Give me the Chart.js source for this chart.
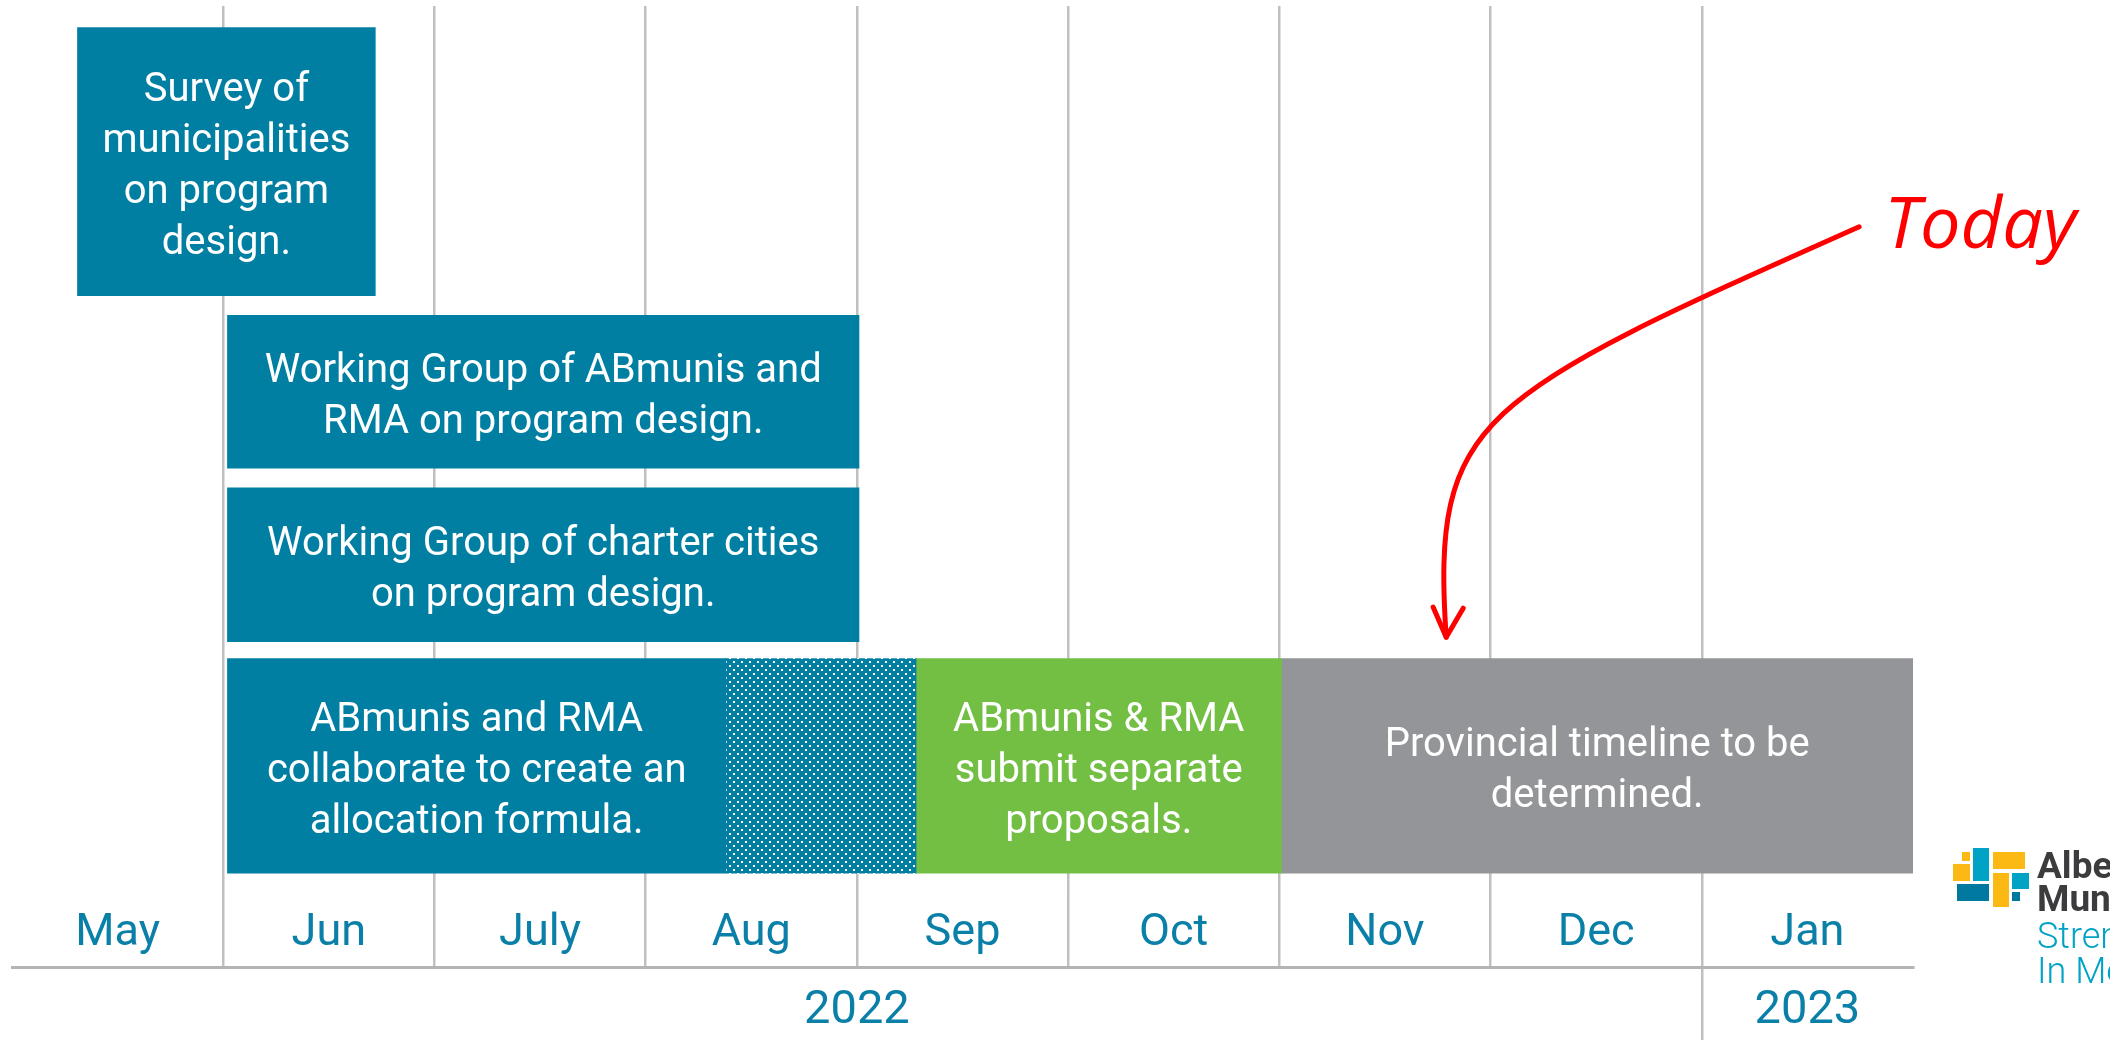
<!DOCTYPE html>
<html>
<head>
<meta charset="utf-8">
<script src="https://cdn.jsdelivr.net/npm/chart.js@4.4.1/dist/chart.umd.min.js"></script>
<style>
  html, body { margin: 0; padding: 0; background: #fff; overflow: hidden; }
  canvas { display: block; }
</style>
</head>
<body>
<canvas id="timeline" width="2110" height="1040"></canvas>
<script>
// axis: months from start of May 2022
const months = ['May', 'Jun', 'July', 'Aug', 'Sep', 'Oct', 'Nov', 'Dec', 'Jan'];
const years = ['2022', '2023'];
const yearStart = [0, 8];
const yearEnd = [8, 9];

// tasks: x in months since May 1, y in rows (0 = top, 10 = bottom)
const taskText = [
  ['Survey of', 'municipalities', 'on program', 'design.'],
  ['Working Group of ABmunis and', 'RMA on program design.'],
  ['Working Group of charter cities', 'on program design.'],
  ['ABmunis and RMA', 'collaborate to create an', 'allocation formula.'],
  [],
  ['ABmunis & RMA', 'submit separate', 'proposals.'],
  ['Provincial timeline to be', 'determined.']
];
const taskStart = [0.31, 1.02, 1.02, 1.02, 3.38, 4.28, 6.01];
const taskEnd = [1.72, 4.01, 4.01, 3.38, 4.28, 6.01, 9.0];
const taskTop = [0.24, 3.46, 5.39, 7.30, 7.30, 7.30, 7.30];
const taskBottom = [3.24, 5.17, 7.11, 9.70, 9.70, 9.70, 9.70];
const taskKind = ['blue', 'blue', 'blue', 'blue', 'dots', 'green', 'grey'];

// "Today" callout (start, two control points, tip), same units as the bars
const todayArrow = [[8.745, 2.47], [6.93, 4.38], [6.72, 4.60], [6.79, 7.06]];

const BLUE = '#007fa3';
const GREEN = '#72bf44';
const GREY = '#949599';
const GRID = '#c0c0c0';
const TEAL = '#0a80a8';
const RED = '#ff0000';

function dotPattern() {
  const c = document.createElement('canvas');
  c.width = 8; c.height = 8;
  const g = c.getContext('2d');
  g.fillStyle = BLUE;
  g.fillRect(0, 0, 8, 8);
  g.fillStyle = '#ffffff';
  g.fillRect(1, 1, 2, 2);
  g.fillRect(5, 5, 2, 2);
  return g.createPattern(c, 'repeat');
}

const fills = { blue: BLUE, dots: dotPattern(), green: GREEN, grey: GREY };

const datasets = taskStart.map((s, i) => ({
  data: [{ x: [s, taskEnd[i]], y: (taskTop[i] + taskBottom[i]) / 2 }],
  xAxisID: 'x',
  yAxisID: 'y',
  backgroundColor: fills[taskKind[i]],
  borderWidth: 0,
  grouped: false,
  barThickness: (c) => {
    const ys = c.chart.scales.y;
    return Math.abs(ys.getPixelForValue(taskBottom[i]) - ys.getPixelForValue(taskTop[i]));
  }
}));

// year ticks: label in the middle of each span, divider at each boundary
const yearMid = years.map((y, i) => (yearStart[i] + yearEnd[i]) / 2);
const yearTicks = yearMid.concat(yearStart.slice(1)).sort((a, b) => a - b);

const barText = {
  id: 'barText',
  afterDatasetsDraw(chart) {
    const ctx = chart.ctx;
    ctx.save();
    ctx.fillStyle = '#ffffff';
    ctx.font = '40px Roboto';
    ctx.textAlign = 'center';
    ctx.textBaseline = 'middle';
    taskText.forEach((lines, i) => {
      if (!lines.length) return;
      const bar = chart.getDatasetMeta(i).data[0];
      const { x, y, base } = bar.getProps(['x', 'y', 'base'], true);
      const cx = (x + base) / 2;
      lines.forEach((t, k) => {
        ctx.fillText(t, cx, y + 6 + (k - (lines.length - 1) / 2) * 51);
      });
    });
    ctx.restore();
  }
};

const todayNote = {
  id: 'todayNote',
  afterDraw(chart) {
    const { ctx, scales: { x, y } } = chart;
    const p = todayArrow.map(([a, b]) => [x.getPixelForValue(a), y.getPixelForValue(b)]);
    ctx.save();
    ctx.strokeStyle = RED;
    ctx.lineWidth = 5;
    ctx.lineCap = 'round';
    ctx.lineJoin = 'round';
    ctx.beginPath();
    ctx.moveTo(p[0][0], p[0][1]);
    ctx.bezierCurveTo(p[1][0], p[1][1], p[2][0], p[2][1], p[3][0], p[3][1]);
    ctx.stroke();
    const [tx, ty] = p[3];
    ctx.beginPath();
    ctx.moveTo(tx - 13, ty - 30);
    ctx.lineTo(tx, ty);
    ctx.lineTo(tx + 17, ty - 29);
    ctx.stroke();
    ctx.fillStyle = RED;
    ctx.font = 'italic 72px "Open Sans"';
    ctx.textAlign = 'left';
    ctx.textBaseline = 'alphabetic';
    ctx.fillText('Today', p[0][0] + 25, p[0][1] + 21);
    ctx.restore();
  }
};

// Alberta Municipalities logo, cut by the right edge as in the slide
const logoBlocks = [
  [9, 4, 8, 9, '#fdb913'], [0, 16, 17, 17, '#fdb913'], [20, 0, 16, 33, '#00a3c6'],
  [40, 4, 32, 17, '#fdb913'], [40, 25, 16, 34, '#fdb913'], [59, 25, 17, 16, '#00a3c6'],
  [4, 36, 32, 17, '#0079a1'], [59, 44, 8, 9, '#0079a1']
];
const logo = {
  id: 'logo',
  afterDraw(chart) {
    const ctx = chart.ctx;
    const ox = chart.chartArea.right + 40;
    const oy = chart.chartArea.bottom - 52;
    ctx.save();
    logoBlocks.forEach(([bx, by, w, h, col]) => {
      ctx.fillStyle = col;
      ctx.fillRect(ox + bx, oy + by, w, h);
    });
    ctx.textAlign = 'left';
    ctx.textBaseline = 'alphabetic';
    ctx.fillStyle = '#3c3c3e';
    ctx.font = 'bold 37px Roboto';
    ctx.fillText('Alberta', ox + 84, oy + 30);
    ctx.fillText('Municipalities', ox + 84, oy + 63);
    ctx.fillStyle = '#00a3c6';
    ctx.font = '300 36px Roboto';
    ctx.fillText('Strength', ox + 84, oy + 100);
    ctx.fillText('In Members', ox + 84, oy + 135);
    ctx.restore();
  }
};

new Chart(document.getElementById('timeline'), {
  type: 'bar',
  data: { datasets: datasets },
  options: {
    indexAxis: 'y',
    responsive: false,
    animation: false,
    events: [],
    layout: { padding: { left: 12, right: 197, top: 6, bottom: 0 } },
    plugins: {
      legend: { display: false },
      tooltip: { enabled: false }
    },
    scales: {
      x: { type: 'linear', min: 0, max: 9, offset: false, display: false },
      y: { type: 'linear', min: 0, max: 10, reverse: true, offset: false, display: false },
      months: {
        type: 'category',
        axis: 'x',
        position: 'bottom',
        weight: 1,
        labels: months,
        offset: true,
        grid: {
          offset: true,
          lineWidth: 2.5,
          tickLength: 67,
          color: (c) => (c.index >= 1 && c.index <= months.length - 1) ? GRID : 'transparent'
        },
        border: { display: false },
        ticks: {
          color: TEAL,
          font: { family: 'Roboto', size: 45, lineHeight: 1.2 },
          padding: -60.5,
          maxRotation: 0,
          autoSkip: false
        },
        afterFit: (s) => { s.height = 67; }
      },
      years: {
        type: 'linear',
        axis: 'x',
        position: 'bottom',
        weight: 2,
        min: 0,
        max: 9,
        afterBuildTicks: (s) => { s.ticks = yearTicks.map(v => ({ value: v })); },
        grid: {
          drawOnChartArea: false,
          lineWidth: 2.5,
          tickLength: 73,
          color: (c) => (c.tick && yearStart.indexOf(c.tick.value) > 0) ? GRID : 'transparent'
        },
        border: { display: true, color: '#b4b4b4', width: 3 },
        ticks: {
          color: TEAL,
          font: { family: 'Roboto', size: 47, lineHeight: 1.2 },
          padding: -57,
          maxRotation: 0,
          autoSkip: false,
          callback: (v) => {
            const i = yearMid.indexOf(v);
            return i >= 0 ? years[i] : '';
          }
        },
        afterFit: (s) => { s.height = 73; }
      }
    }
  },
  plugins: [barText, todayNote, logo]
});
</script>
</body>
</html>
